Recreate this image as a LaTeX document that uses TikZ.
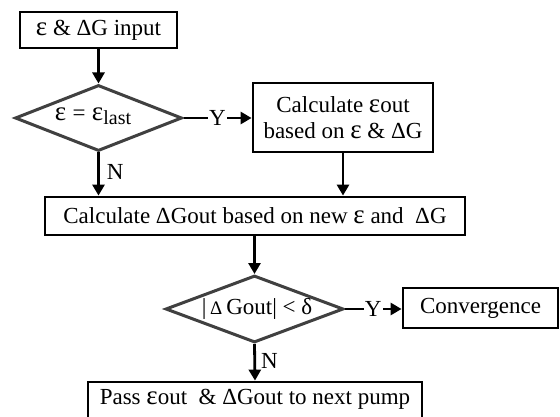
\documentclass[tikz,border=0pt]{standalone}
\usepackage{fontspec}
\setmainfont{Liberation Serif}
\usetikzlibrary{arrows.meta,shapes.geometric}
\newcommand{\eps}{{\fontsize{27}{27}\selectfont ε}}
\begin{document}
\begin{tikzpicture}[x=1pt,y=-1pt,
  box/.style={draw=black,line width=2.8pt,rectangle,inner sep=0pt,font=\fontsize{23}{26}\selectfont,align=center},
  dia/.style={draw=black!75,line width=3pt,diamond,inner sep=0pt},
  arr/.style={line width=2.8pt,-{Triangle[length=11pt,width=12pt]}},
  lab/.style={font=\fontsize{23}{26}\selectfont,inner sep=1pt},
  txt/.style={font=\fontsize{23}{26}\selectfont,inner sep=0pt}]
\clip (0,0) rectangle (560,417);
\fill[white] (0,0) rectangle (560,417);
\node[box,minimum width=157pt,minimum height=36pt] (b1) at (98.5,30) {\eps{} \& ΔG input};
\node[dia,minimum width=167pt,minimum height=66pt] (d1) at (98.5,118) {};
\node[txt] (t1) at (93,116) {\eps\;=\;\eps\raisebox{-0.4ex}{\fontsize{20}{22}\selectfont last}};
\node[box,minimum width=180pt,minimum height=69pt] (b2) at (343,117.5) {};
\node[txt] (t2a) at (343,105) {Calculate \eps out};
\node[txt] (t2b) at (343,131) {based on \eps{} \& ΔG};
\node[box,minimum width=420pt,minimum height=38pt] (b3) at (255,216) {Calculate ΔGout based on new \eps{} and \ ΔG};
\node[dia,minimum width=178pt,minimum height=67pt] (d2) at (254.5,309) {};
\node[txt] (t3) at (257,309) {|\,{\fontsize{19}{20}\selectfont Δ}\,Gout| < δ};
\node[box,minimum width=155pt,minimum height=40pt] (b4) at (480.5,308) {Convergence};
\node[box,minimum width=334pt,minimum height=56pt] (b5) at (255,410) {};
\node[txt] (t5) at (255,399) {Pass \eps out \ \& ΔGout to next pump};
\draw[arr] (b1.south) -- (d1.north);
\draw[arr] (d1.east) -- node[lab,fill=white] (y1) {Y} (b2.west |- d1.east);
\draw[arr] (d1.south) -- node[lab,right,pos=0.45,xshift=6pt] (n1) {N} (d1.south |- b3.north);
\draw[arr] (b2.south) -- (b2.south |- b3.north);
\draw[arr] (b3.south -| d2.north) -- (d2.north);
\draw[arr] (d2.east) -- node[lab,fill=white] (y2) {Y} (b4.west |- d2.east);
\draw[arr] (d2.south) -- node[lab,right,pos=0.45,xshift=4pt] (n2) {N} (b5.north);
\end{tikzpicture}
\end{document}
